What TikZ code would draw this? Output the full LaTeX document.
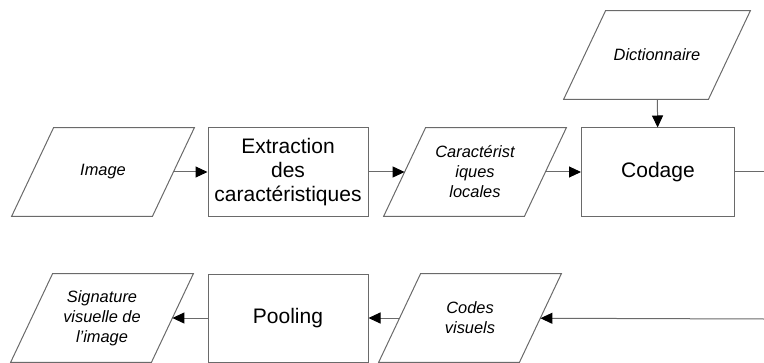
\documentclass[tikz,border=0pt]{standalone}
\usepackage{fontspec}
\setmainfont{Liberation Sans}
\usetikzlibrary{arrows.meta}
\definecolor{linegray}{HTML}{6A6A6A}
\tikzset{
  donnee/.style={rectangle, minimum width=70pt, minimum height=44pt,
    inner sep=0pt, align=center, font=\fontsize{8.2}{10}\selectfont\itshape},
  cadre/.style={draw=linegray, line width=0.5pt, line join=miter},
  traitement/.style={rectangle, draw=linegray, line width=0.5pt,
    minimum width=80pt, minimum height=44pt, inner sep=0pt, align=center,
    font=\fontsize{10.5}{12}\selectfont},
  fleche/.style={draw=linegray, line width=0.5pt,
    -{Triangle[length=6pt,width=5.5pt,color=black]}}
}
\begin{document}
\begin{tikzpicture}[x=0.5pt,y=-0.5pt]
    \useasboundingbox (0,0) rectangle (764,363);
    % Top row
    \node[donnee] (image) at (103,172) {Image};
    \node[traitement] (extract) at (288,172) {Extraction\\des\\caractéristiques};
    \node[donnee] (carac) at (475,172) {Caractérist\\iques\\locales};
    \node[traitement, minimum width=76.5pt] (codage) at (658,172) {Codage};
    \node[donnee, minimum width=72pt] (dico) at (657,55) {Dictionnaire};
    \coordinate (sortie) at (764,172);
    % Bottom row
    \node[donnee] (signature) at (102,318) {Signature\\visuelle de\\l’image};
    \node[traitement] (pooling) at (288,318) {Pooling};
    \node[donnee] (codes) at (470,318) {Codes\\visuels};
    \coordinate (entree) at (764,319);
    % Slanted frames round the data nodes
    \foreach \n in {image,carac,dico,signature,codes} {
        \draw[cadre] ([xshift=-10.5pt]\n.south west) -- ([xshift=-10.5pt]\n.south east)
            -- ([xshift=10.5pt]\n.north east) -- ([xshift=10.5pt]\n.north west) -- cycle;
    }
    % Arrows
    \draw[fleche] (image) -- (extract);
    \draw[fleche] (extract) -- (carac);
    \draw[fleche] (carac) -- (codage);
    \draw[fleche] (dico) -- (codage);
    \draw[draw=linegray, line width=0.5pt] (codage) -- (sortie);
    \draw[fleche] (entree) -- (codes);
    \draw[fleche] (codes) -- (pooling);
    \draw[fleche] (pooling) -- (signature);
\end{tikzpicture}
\end{document}
